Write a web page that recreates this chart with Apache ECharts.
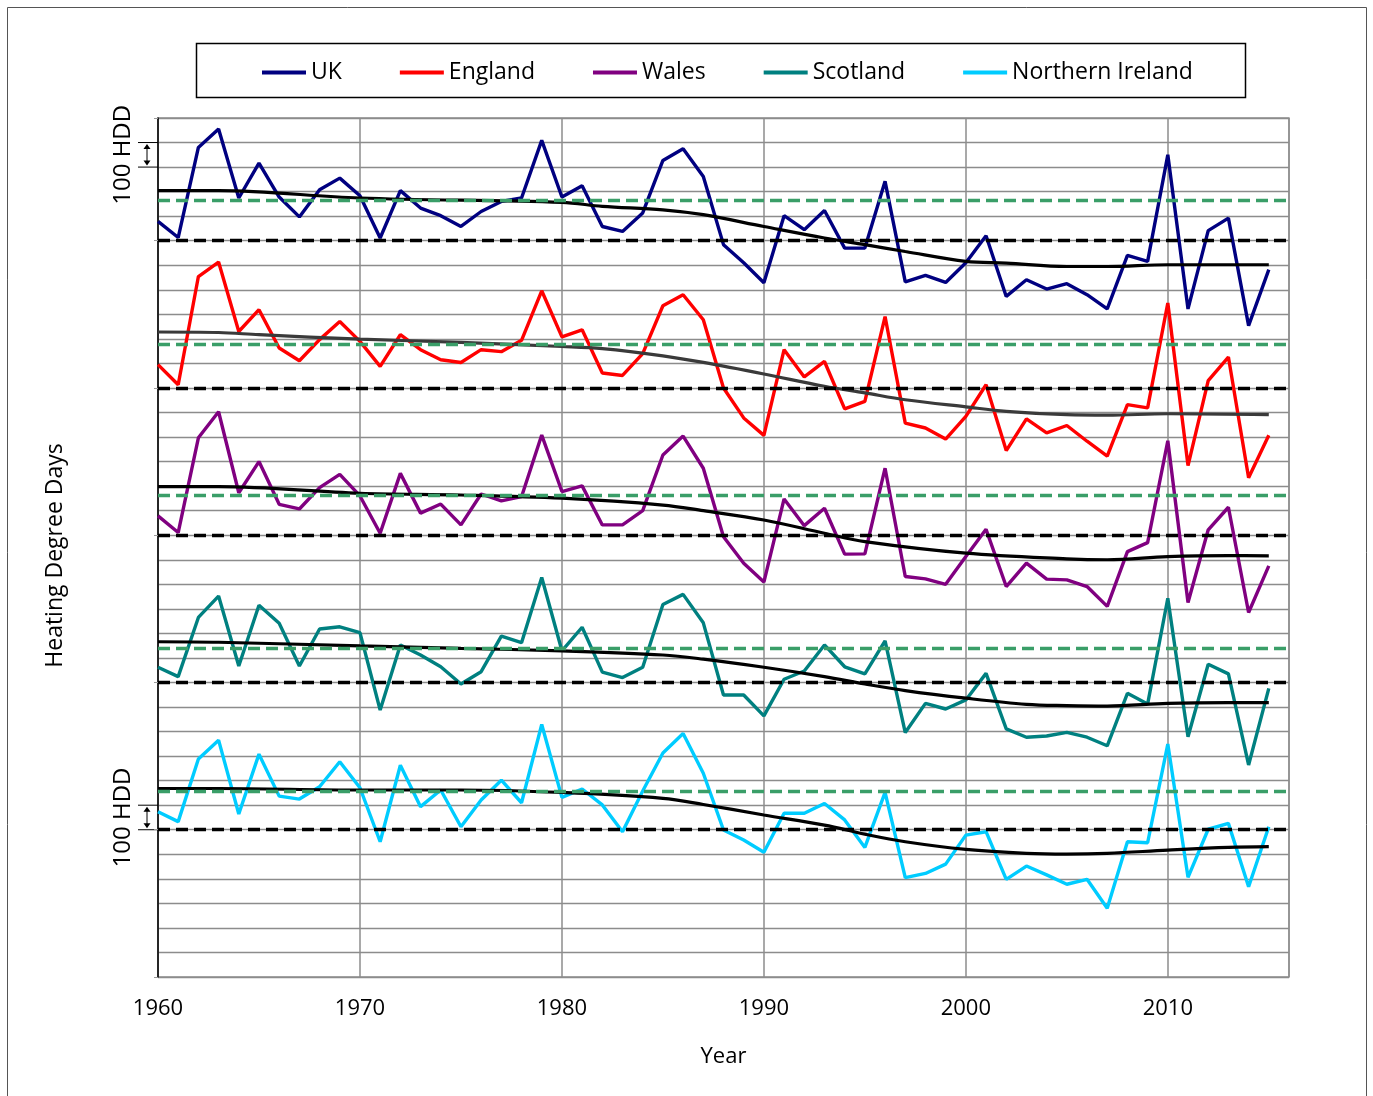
<!DOCTYPE html>
<html>
<head>
<meta charset="utf-8">
<script src="https://cdn.jsdelivr.net/npm/echarts@6/dist/echarts.min.js"></script>
<style>
  html, body { margin: 0; padding: 0; background: #fff; }
  #chart { width: 1373px; height: 1096px; }
</style>
</head>
<body>
<div id="chart"></div>
<script>
// Years on the x axis
const years = [1960,1961,1962,1963,1964,1965,1966,1967,1968,1969,
               1970,1971,1972,1973,1974,1975,1976,1977,1978,1979,
               1980,1981,1982,1983,1984,1985,1986,1987,1988,1989,
               1990,1991,1992,1993,1994,1995,1996,1997,1998,1999,
               2000,2001,2002,2003,2004,2005,2006,2007,2008,2009,
               2010,2011,2012,2013,2014,2015];
const xTickLabels = ['1960','1970','1980','1990','2000','2010'];

// Annual heating degree days, relative to each region's reference level (HDD)
const ukValues = [79,13,380,455,174,316,178,97,208,255,
                  183,11,204,133,102,58,119,160,174,409,
                  178,224,58,38,113,327,375,262,-16,-90,
                  -171,102,45,123,-30,-30,242,-168,-141,-170,
                  -90,20,-227,-159,-197,-175,-220,-278,-60,-84,
                  350,-278,41,92,-346,-118];
const englandValues = [95,13,454,513,230,319,163,111,197,271,
                       190,88,217,156,115,104,156,148,194,396,
                       208,237,61,51,140,335,380,278,0,-122,
                       -193,156,45,108,-85,-55,291,-143,-163,-208,
                       -116,13,-255,-126,-183,-153,-217,-278,-68,-81,
                       346,-316,30,126,-366,-193];
const walesValues = [79,11,397,503,173,300,126,107,194,248,
                     160,8,252,90,127,42,168,140,157,408,
                     178,201,42,42,100,327,404,273,-6,-114,
                     -191,148,39,110,-77,-76,273,-168,-178,-200,
                     -87,24,-209,-114,-179,-182,-209,-290,-67,-30,
                     385,-274,22,114,-315,-125];
const scotlandValues = [62,24,265,352,67,315,241,67,218,227,
                        203,-112,153,112,64,-6,44,189,162,428,
                        129,225,42,20,62,318,359,243,-51,-51,
                        -136,13,47,153,64,35,170,-204,-85,-108,
                        -71,37,-189,-223,-218,-203,-223,-258,-44,-88,
                        343,-221,74,35,-336,-24];
const niValues = [73,33,288,365,64,308,137,125,175,277,
                  171,-49,263,94,162,12,121,202,110,429,
                  132,166,101,-8,158,313,392,230,-1,-42,
                  -92,67,67,107,40,-72,152,-195,-178,-140,
                  -22,-8,-202,-148,-184,-222,-202,-320,-49,-53,
                  349,-194,2,26,-232,12];

// Smoothed trend, as [year, HDD relative to reference level]
const ukTrend = [[1960,204],[1963,204],[1970,174],[1980,156],[1982,140],[1985,126],[1987,106],
                 [1990,58],[1993,11],[1995,-16],[1997,-44],[2000,-84],[2002,-91],[2005,-105],
                 [2007,-105],[2010,-98],[2015,-98]];
const englandTrend = [[1960,228],[1963,226],[1965,217],[1970,199],[1975,186],[1980,169],[1982,160],
                      [1985,131],[1987,104],[1990,57],[1993,7],[1995,-20],[1997,-48],[2000,-77],
                      [2002,-95],[2005,-109],[2007,-111],[2010,-105],[2015,-109]];
const walesTrend = [[1960,198],[1963,198],[1970,171],[1975,164],[1980,151],[1985,123],[1987,100],
                    [1990,62],[1993,8],[1995,-26],[2000,-73],[2005,-96],[2007,-100],[2010,-87],
                    [2013,-83],[2015,-84]];
const scotlandTrend = [[1960,166],[1963,164],[1970,149],[1975,139],[1980,129],[1985,112],[1987,95],
                       [1990,62],[1993,24],[1995,-6],[1997,-33],[2000,-64],[2003,-89],[2005,-94],
                       [2007,-96],[2010,-85],[2013,-82],[2015,-82]];
const niTrend = [[1960,168],[1963,168],[1970,162],[1975,162],[1980,152],[1985,128],[1987,103],
                 [1990,60],[1993,19],[1995,-18],[1997,-49],[2000,-80],[2003,-96],[2005,-99],
                 [2007,-96],[2010,-83],[2013,-72],[2015,-69]];

// Long-term mean, relative to reference level (HDD)
const ukMean = 164, englandMean = 180, walesMean = 161, scotlandMean = 139, niMean = 155;

// Vertical offset of each region's panel (HDD)
const regionNames = ['UK','England','Wales','Scotland','Northern Ireland'];
const regionOffsets = [3000, 2400, 1800, 1200, 600];
const regionValues = [ukValues, englandValues, walesValues, scotlandValues, niValues];
const regionTrends = [ukTrend, englandTrend, walesTrend, scotlandTrend, niTrend];
const regionMeans = [ukMean, englandMean, walesMean, scotlandMean, niMean];

const lineColors = ['#000080','#ff0000','#800080','#008080','#00ccff'];
const trendColors = ['#000000','#3a3a3a','#000000','#000000','#000000'];
const FONT = 'Open Sans';

const series = [];
regionNames.forEach(function (name, k) {
  const off = regionOffsets[k];
  series.push({
    name: name,
    type: 'line',
    data: years.map(function (y, i) { return [y, off + regionValues[k][i]]; }),
    showSymbol: false,
    lineStyle: { color: lineColors[k], width: 3.4 },
    itemStyle: { color: lineColors[k] },
    z: 3
  });
});
regionNames.forEach(function (name, k) {
  const off = regionOffsets[k];
  series.push({
    name: name + ' trend',
    type: 'line',
    data: regionTrends[k].map(function (p) { return [p[0], off + p[1]]; }),
    smooth: 0.35,
    showSymbol: false,
    lineStyle: { color: trendColors[k], width: 3.2 },
    z: 4,
    markLine: {
      silent: true,
      symbol: ['none', 'none'],
      label: { show: false },
      animation: false,
      data: [
        { yAxis: off, lineStyle: { color: '#000', width: 3.4, type: [12, 6] } },
        { yAxis: off + regionMeans[k], lineStyle: { color: '#3a9e68', width: 3.4, type: [12, 6] } }
      ]
    }
  });
});

const chart = echarts.init(document.getElementById('chart'));
chart.setOption({
  animation: false,
  backgroundColor: '#fff',
  textStyle: { fontFamily: FONT },
  legend: {
    data: regionNames,
    left: 257,
    top: 56,
    icon: 'rect',
    itemWidth: 44,
    itemHeight: 4,
    itemGap: 58,
    textStyle: { fontSize: 23, color: '#000', fontFamily: FONT },
    selectedMode: false
  },
  grid: {
    left: 158, right: 84, top: 118, bottom: 119,
    show: true, borderColor: '#8c8c8c', borderWidth: 1.3
  },
  xAxis: {
    type: 'value',
    min: 1960, max: 2016, interval: 10,
    axisLine: { show: false },
    axisTick: { show: false },
    axisLabel: {
      fontSize: 22, color: '#000', fontFamily: FONT, margin: 21,
      showMaxLabel: false,
      formatter: function (v) { const s = String(v); return xTickLabels.indexOf(s) >= 0 ? s : ''; }
    },
    splitLine: { show: true, lineStyle: { color: '#8c8c8c', width: 1.5 } },
    name: 'Year',
    nameLocation: 'middle',
    nameGap: 69,
    nameTextStyle: { fontSize: 22, color: '#000', fontFamily: FONT }
  },
  yAxis: [{
    type: 'value',
    min: 0, max: 3500, interval: 100,
    axisLine: { show: true, lineStyle: { color: '#000', width: 1.5 } },
    axisTick: { show: false },
    axisLabel: { show: false },
    splitLine: { show: true, lineStyle: { color: '#8c8c8c', width: 1.3 } }
  }, {
    type: 'value',
    min: 0, max: 3500, interval: 600,
    position: 'left',
    axisLine: { show: false },
    axisTick: { show: true, length: 4, lineStyle: { color: '#999', width: 1 } },
    axisLabel: { show: false },
    splitLine: { show: false }
  }],
  series: series
});

// Decorations: outer frame, legend box, axis title and 100 HDD scale brackets
function bracket(yTop, yBot) {
  const x0 = 138, x1 = 158, xa = 147, h = 5, w = 3.5;
  return [
    { type: 'line', shape: { x1: x0, y1: yTop, x2: x1, y2: yTop }, style: { stroke: '#000', lineWidth: 1 } },
    { type: 'line', shape: { x1: x0, y1: yBot, x2: x1, y2: yBot }, style: { stroke: '#000', lineWidth: 1 } },
    { type: 'line', shape: { x1: xa, y1: yTop + 3, x2: xa, y2: yBot - 3 }, style: { stroke: '#000', lineWidth: 1 } },
    { type: 'polygon', shape: { points: [[xa, yTop + 1.5], [xa - w, yTop + 1.5 + h], [xa + w, yTop + 1.5 + h]] }, style: { fill: '#000' } },
    { type: 'polygon', shape: { points: [[xa, yBot - 1.5], [xa - w, yBot - 1.5 - h], [xa + w, yBot - 1.5 - h]] }, style: { fill: '#000' } }
  ];
}
function vText(text, x, y, size) {
  return {
    type: 'text', x: x, y: y, rotation: Math.PI / 2,
    style: { text: text, fill: '#000', font: size + 'px "' + FONT + '"', textAlign: 'center', textVerticalAlign: 'middle' }
  };
}
const topA = chart.convertToPixel({ yAxisIndex: 0 }, 3400);
const topB = chart.convertToPixel({ yAxisIndex: 0 }, 3300);
const botA = chart.convertToPixel({ yAxisIndex: 0 }, 700);
const botB = chart.convertToPixel({ yAxisIndex: 0 }, 600);
const plotMid = (chart.convertToPixel({ yAxisIndex: 0 }, 0) + chart.convertToPixel({ yAxisIndex: 0 }, 3500)) / 2;

chart.setOption({
  graphic: [
    { type: 'rect', shape: { x: 7.5, y: 7.5, width: 1359, height: 1100 }, style: { fill: 'none', stroke: '#555', lineWidth: 1 }, silent: true },
    { type: 'rect', shape: { x: 196.5, y: 43.5, width: 1049, height: 54 }, style: { fill: 'none', stroke: '#000', lineWidth: 1.5 }, silent: true },
    vText('Heating Degree Days', 55, plotMid + 8, 23),
    vText('100 HDD', 123, (topA + topB) / 2, 24),
    vText('100 HDD', 123, (botA + botB) / 2, 24)
  ].concat(bracket(topA, topB), bracket(botA, botB))
});
</script>
</body>
</html>
